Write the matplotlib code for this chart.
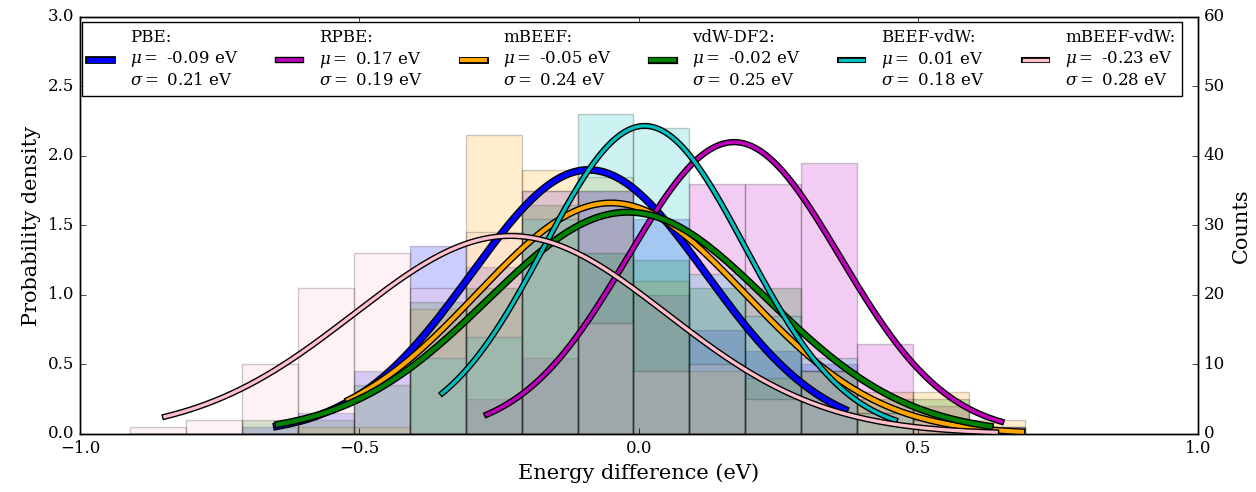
import numpy as np
import matplotlib
matplotlib.use('Agg')
import matplotlib.pyplot as plt
import matplotlib.patheffects as pe

plt.style.use('classic')
plt.rcParams['font.family'] = 'serif'
plt.rcParams['font.serif'] = ['DejaVu Serif']
plt.rcParams['mathtext.fontset'] = 'dejavuserif'

# functionals, fit parameters and histogram counts
functionals = ['PBE', 'RPBE', 'mBEEF', 'vdW-DF2', 'BEEF-vdW', 'mBEEF-vdW']
colors = ['b', 'm', 'orange', 'g', 'c', 'pink']
mu = [-0.09, 0.17, -0.05, -0.02, 0.01, -0.23]
sigma = [0.21, 0.19, 0.24, 0.25, 0.18, 0.28]

# data range of each set (the fitted curve is drawn over it)
x_min = [-0.648, -0.272, -0.52, -0.646, -0.352, -0.848]
x_max = [0.368, 0.648, 0.685, 0.628, 0.458, 0.639]

bin_edges = [-0.91, -0.81, -0.71, -0.61, -0.51, -0.41, -0.31, -0.21, -0.11,
             -0.01, 0.09, 0.19, 0.29, 0.39, 0.49, 0.59, 0.69]

counts_pbe = [0, 0, 1, 3, 9, 27, 24, 35, 35, 31, 15, 12, 10, 0, 0, 0]
counts_rpbe = [0, 0, 0, 0, 0, 0, 5, 11, 35, 20, 36, 36, 39, 13, 4, 1]
counts_mbeef = [0, 0, 0, 1, 1, 18, 43, 38, 37, 22, 9, 8, 9, 6, 6, 2]
counts_vdwdf2 = [0, 0, 2, 2, 7, 19, 21, 33, 26, 25, 21, 21, 9, 5, 5, 1]
counts_beefvdw = [0, 0, 0, 0, 0, 11, 14, 31, 46, 44, 23, 17, 11, 3, 0, 0]
counts_mbeefvdw = [1, 2, 10, 21, 26, 21, 29, 35, 16, 9, 10, 5, 9, 3, 2, 1]

all_counts = [counts_pbe, counts_rpbe, counts_mbeef,
              counts_vdwdf2, counts_beefvdw, counts_mbeefvdw]
line_widths = [3.6, 2.6, 3.0, 3.2, 2.4, 2.4]

fig = plt.figure(figsize=(12.56, 4.92), dpi=100, facecolor='w')
ax = fig.add_axes([0.0637, 0.1179, 0.8901, 0.8476])
ax2 = ax.twinx()

# histograms on the counts axis
edges = np.array(bin_edges)
for counts, col in zip(all_counts, colors):
    ax2.bar(edges[:-1], counts, width=np.diff(edges), align='edge',
            color=col, alpha=0.2, edgecolor='k', linewidth=1)

# fitted normal distributions on the density axis
for name, col, m, s, lo, hi, lw in zip(functionals, colors, mu, sigma,
                                         x_min, x_max, line_widths):
    xs = np.linspace(lo, hi, 300)
    ys = np.exp(-(xs - m) ** 2 / (2 * s ** 2)) / (s * np.sqrt(2 * np.pi))
    label = '%s:\n$\\mu=$ %.2f eV\n$\\sigma=$ %.2f eV' % (name, m, s)
    ax.plot(xs, ys, color=col, lw=lw, solid_capstyle='projecting', label=label,
            path_effects=[pe.Stroke(linewidth=lw + 2, foreground='k'),
                          pe.Normal()])

ax.set_zorder(ax2.get_zorder() + 1)
ax.patch.set_visible(False)

ax.set_xlim(-1.0, 1.0)
ax.set_ylim(0, 3.0)
ax2.set_ylim(0, 60)
ax.set_xticks([-1.0, -0.5, 0.0, 0.5, 1.0])
ax.set_yticks(np.arange(0, 3.01, 0.5))
ax2.set_yticks(np.arange(0, 61, 10))
ax.tick_params(labelsize=12)
ax2.tick_params(labelsize=12)

ax.set_xlabel('Energy difference (eV)', fontsize=15)
ax.set_ylabel('Probability density', fontsize=15)
ax2.set_ylabel('Counts', fontsize=15)

ax.legend(loc='upper left', bbox_to_anchor=(0.0018, 0.0, 0.984, 0.988),
          mode='expand', ncol=6, fontsize=12, borderaxespad=0,
          numpoints=1, handlelength=1.4, handletextpad=1.1,
          borderpad=0.4, labelspacing=0.4)

fig.savefig('out.png', dpi=100, facecolor='w')
